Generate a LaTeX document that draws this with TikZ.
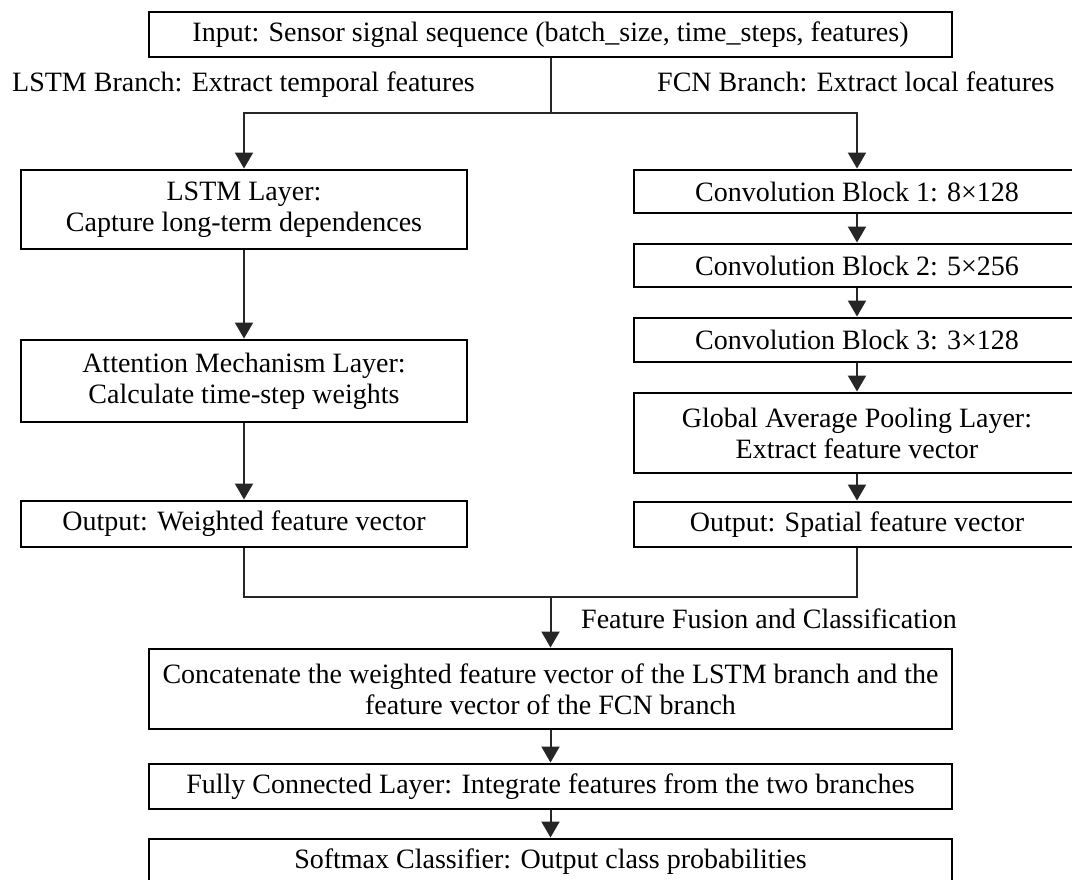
\documentclass[tikz,border=0pt]{standalone}
\usepackage{fontspec}
\setmainfont{Liberation Serif}
\usetikzlibrary{arrows.meta}

\tikzset{
  blk/.style={draw=black, line width=2.9pt, rectangle, inner sep=0pt,
    align=center, text=black, font=\fontsize{28}{31}\selectfont},
  lbl/.style={inner sep=0pt, anchor=base west, text=black,
    font=\fontsize{28}{31}\selectfont},
  wire/.style={draw=black!85, line width=2pt},
  flow/.style={wire, -{Triangle[width=18pt,length=16pt]}}
}

\begin{document}
\begin{tikzpicture}[x=1pt, y=1pt]
  \useasboundingbox (0,0) rectangle (1072,-880);
  \clip (0,0) rectangle (1072,-880);

  % input
  \node[blk, minimum width=803pt, minimum height=45pt] (input) at (550.5,-34.5)
    {Input: Sensor signal sequence (batch\_size, time\_steps, features)};

  % branch captions
  \node[lbl] (lcap) at (12,-92) {LSTM Branch: Extract temporal features};
  \node[lbl] (rcap) at (657,-92) {FCN Branch: Extract local features};

  % LSTM branch
  \node[blk, minimum width=446pt, minimum height=79pt] (lstm) at (244,-209.5)
    {LSTM Layer:\\Capture long-term dependences};
  \node[blk, minimum width=446pt, minimum height=82pt] (att) at (244,-381)
    {Attention Mechanism Layer:\\Calculate time-step weights};
  \node[blk, minimum width=446pt, minimum height=46pt] (outl) at (244,-524)
    {Output: Weighted feature vector};

  % FCN branch
  \node[blk, minimum width=446pt, minimum height=43pt] (c1) at (857,-191.5)
    {Convolution Block 1: 8×128};
  \node[blk, minimum width=446pt, minimum height=43pt] (c2) at (857,-265.5)
    {Convolution Block 2: 5×256};
  \node[blk, minimum width=446pt, minimum height=44pt] (c3) at (857,-340)
    {Convolution Block 3: 3×128};
  \node[blk, minimum width=446pt, minimum height=80pt] (gap) at (857,-433)
    {Global Average Pooling Layer:\\Extract feature vector};
  \node[blk, minimum width=446pt, minimum height=45pt] (outr) at (857,-524.5)
    {Output: Spatial feature vector};

  % fusion and classification
  \node[lbl] (fcap) at (581,-628) {Feature Fusion and Classification};
  \node[blk, minimum width=803pt, minimum height=80pt] (cat) at (550.5,-689)
    {Concatenate the weighted feature vector of the LSTM branch and the\\feature vector of the FCN branch};
  \node[blk, minimum width=803pt, minimum height=45pt] (fc) at (550.5,-786.5)
    {Fully Connected Layer: Integrate features from the two branches};
  \node[blk, minimum width=803pt, minimum height=45pt] (soft) at (550.5,-861.5)
    {Softmax Classifier: Output class probabilities};

  % split from the input
  \coordinate (split) at (input.south |- 0,-113);
  \draw[wire] (input.south) -- (split);
  \draw[flow] (split) -| (lstm.north);
  \draw[flow] (split) -| (c1.north);

  % LSTM branch flow
  \draw[flow] (lstm.south) -- (att.north);
  \draw[flow] (att.south) -- (outl.north);

  % FCN branch flow
  \draw[flow] (c1.south) -- (c2.north);
  \draw[flow] (c2.south) -- (c3.north);
  \draw[flow] (c3.south) -- (gap.north);
  \draw[flow] (gap.south) -- (outr.north);

  % merge of both branches
  \coordinate (merge) at (cat.north |- 0,-597);
  \draw[wire] (outl.south) |- (merge);
  \draw[wire] (outr.south) |- (merge);
  \draw[flow] (merge) -- (cat.north);

  \draw[flow] (cat.south) -- (fc.north);
  \draw[flow] (fc.south) -- (soft.north);
\end{tikzpicture}
\end{document}
